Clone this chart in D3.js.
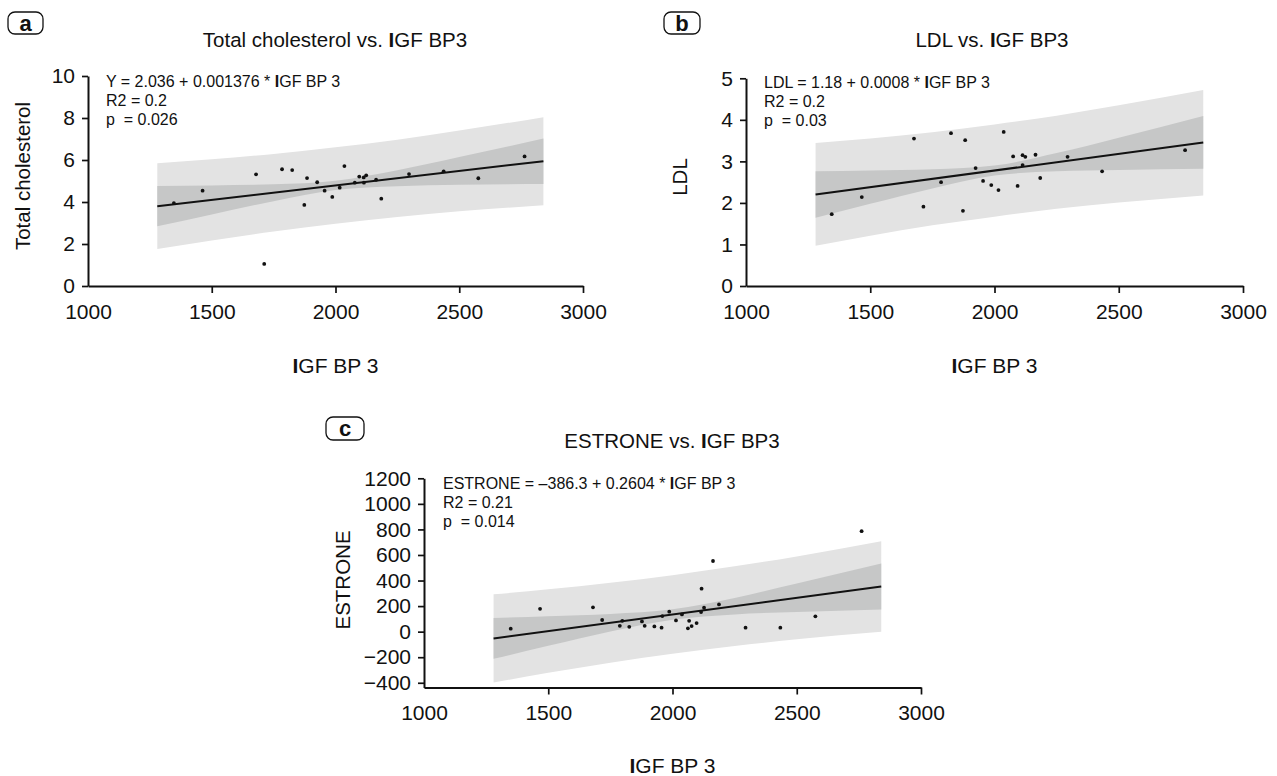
<!DOCTYPE html>
<html>
<head>
<meta charset="utf-8">
<script src="https://cdn.jsdelivr.net/npm/d3@7"></script>
<style>
  body { margin: 0; background: #fff; }
  svg { display: block; font-family: "Liberation Sans", Arial, Helvetica, sans-serif; }
  text { white-space: pre; fill: #111; }
</style>
</head>
<body>
<svg id="chart" width="1277" height="776"></svg>
<script>
// shared x values
const xTicks = [1000, 1500, 2000, 2500, 3000];
const bandX = [1280, 1500, 1750, 2000, 2250, 2500, 2840];

// a: total cholesterol
const cholX = [1347, 1463, 1679, 1712, 1784, 1825, 1874, 1885, 1926, 1956, 1987, 2017,
  2036, 2078, 2096, 2114, 2124, 2115, 2164, 2185, 2297, 2437, 2577, 2764];
const cholY = [3.95, 4.54, 5.32, 1.05, 5.56, 5.52, 3.86, 5.14, 4.94, 4.54, 4.24, 4.68,
  5.71, 4.92, 5.21, 5.17, 5.27, 4.92, 5.06, 4.16, 5.33, 5.46, 5.13, 6.17];
const cholCoef = [2.036, 0.001376];
const cholLightHi = [5.84, 6.03, 6.29, 6.61, 6.97, 7.40, 8.04];
const cholDarkHi = [4.76, 4.79, 4.84, 5.01, 5.51, 6.14, 7.02];
const cholDarkLo = [2.84, 3.41, 4.04, 4.57, 4.75, 4.82, 4.86];
const cholLightLo = [1.76, 2.17, 2.59, 2.97, 3.29, 3.56, 3.84];
const cholTicks = [0, 2, 4, 6, 8, 10];

// b: LDL
const ldlX = [1345, 1466, 1676, 1714, 1785, 1825, 1873, 1882, 1924, 1954, 1987, 2016,
  2037, 2075, 2093, 2113, 2124, 2113, 2165, 2184, 2294, 2433, 2767];
const ldlY = [1.73, 2.14, 3.55, 1.91, 2.50, 3.68, 1.81, 3.51, 2.84, 2.53, 2.43, 2.31,
  3.71, 3.12, 2.41, 3.15, 3.11, 2.91, 3.16, 2.60, 3.11, 2.76, 3.27];
const ldlCoef = [1.18, 0.0008];
const ldlLightHi = [3.44, 3.55, 3.70, 3.89, 4.10, 4.35, 4.72];
const ldlDarkHi = [2.76, 2.78, 2.81, 2.90, 3.20, 3.57, 4.09];
const ldlDarkLo = [1.64, 1.98, 2.35, 2.66, 2.76, 2.79, 2.82];
const ldlLightLo = [0.97, 1.21, 1.46, 1.67, 1.86, 2.01, 2.18];
const ldlTicks = [0, 1, 2, 3, 4, 5];

// c: estrone
const estX = [1349, 1467, 1680, 1717, 1788, 1798, 1826, 1877, 1888, 1927, 1956, 1959,
  1987, 2014, 2038, 2062, 2067, 2077, 2097, 2115, 2117, 2127, 2163, 2187, 2294, 2434,
  2575, 2761];
const estY = [23, 179, 190, 91, 46, 85, 38, 80, 46, 41, 31, 122, 156, 88, 135, 26, 85,
  44, 67, 153, 336, 187, 553, 213, 31, 31, 120, 786];
const estCoef = [-386.3, 0.2604];
const estLightHi = [292, 331, 382, 442, 511, 589, 707];
const estDarkHi = [107, 120, 138, 175, 264, 376, 533];
const estDarkLo = [-213, -111, 1, 94, 135, 154, 174];
const estLightLo = [-398, -322, -243, -173, -112, -60, -1];
const estTicks = [-400, -200, 0, 200, 400, 600, 800, 1000, 1200];

const svg = d3.select("#chart");

const panels = [
  {
    letter: "a", box: [8, 12, 35, 22],
    title: "Total cholesterol vs. IGF BP3", titlePos: [335, 47],
    left: 88, right: 583, yDomain: [0, 10], yRange: [286, 76], ticks: cholTicks,
    yLabel: "Total cholesterol", yLabelPos: [23, 176],
    xLabelY: 373,
    note: ["Y = 2.036 + 0.001376 * IGF BP 3", "R2 = 0.2", "p  = 0.026"], notePos: [106, 87],
    px: cholX, py: cholY, coef: cholCoef,
    lightHi: cholLightHi, darkHi: cholDarkHi, darkLo: cholDarkLo, lightLo: cholLightLo
  },
  {
    letter: "b", box: [664, 12, 36, 22],
    title: "LDL vs. IGF BP3", titlePos: [992, 47],
    left: 746, right: 1243, yDomain: [0, 5], yRange: [286, 78.3], ticks: ldlTicks,
    yLabel: "LDL", yLabelPos: [680, 177],
    xLabelY: 373,
    note: ["LDL = 1.18 + 0.0008 * IGF BP 3", "R2 = 0.2", "p  = 0.03"], notePos: [764, 88],
    px: ldlX, py: ldlY, coef: ldlCoef,
    lightHi: ldlLightHi, darkHi: ldlDarkHi, darkLo: ldlDarkLo, lightLo: ldlLightLo
  },
  {
    letter: "c", box: [326, 417, 38, 23],
    title: "ESTRONE vs. IGF BP3", titlePos: [672, 448],
    left: 424, right: 921, yDomain: [-437, 1200], yRange: [687.5, 478.3], ticks: estTicks,
    yLabel: "ESTRONE", yLabelPos: [343, 580],
    xLabelY: 773,
    note: ["ESTRONE = \u2013386.3 + 0.2604 * IGF BP 3", "R2 = 0.21", "p  = 0.014"], notePos: [443, 489],
    px: estX, py: estY, coef: estCoef,
    lightHi: estLightHi, darkHi: estDarkHi, darkLo: estDarkLo, lightLo: estLightLo
  }
];

// the capital I of "IGF" is set heavier in the original
function richText(sel, str) {
  const parts = str.split("IGF");
  parts.forEach((part, i) => {
    if (part) sel.append("tspan").text(part);
    if (i < parts.length - 1) {
      sel.append("tspan").attr("font-weight", "bold").text("I");
      sel.append("tspan").text("GF");
    }
  });
}

function drawPanel(p) {
  const g = svg.append("g").attr("class", "panel-" + p.letter);
  const x = d3.scaleLinear().domain([1000, 3000]).range([p.left, p.right]);
  const y = d3.scaleLinear().domain(p.yDomain).range(p.yRange);
  const bottom = p.yRange[0];

  // prediction band, then confidence band
  const band = (lo, hi) => d3.area()
    .x((d, i) => x(bandX[i]))
    .y0((d, i) => y(lo[i]))
    .y1((d, i) => y(hi[i]))
    .curve(d3.curveMonotoneX)(bandX);

  g.append("path").attr("d", band(p.lightLo, p.lightHi)).attr("fill", "#e3e3e3");
  g.append("path").attr("d", band(p.darkLo, p.darkHi)).attr("fill", "#c6c7c7");

  // fitted line
  const ends = [bandX[0], bandX[bandX.length - 1]];
  g.append("path")
    .attr("d", d3.line()
      .x(d => x(d))
      .y(d => y(p.coef[0] + p.coef[1] * d))(ends))
    .attr("fill", "none")
    .attr("stroke", "#111")
    .attr("stroke-width", 2);

  g.selectAll("circle.pt")
    .data(p.px.map((v, i) => [v, p.py[i]]))
    .join("circle")
    .attr("class", "pt")
    .attr("cx", d => x(d[0]))
    .attr("cy", d => y(d[1]))
    .attr("r", 1.9)
    .attr("fill", "#111");

  // axes
  const xAxis = g.append("g")
    .attr("transform", `translate(0,${bottom})`)
    .call(d3.axisBottom(x).tickValues(xTicks).tickSize(7).tickSizeOuter(0).tickPadding(11)
      .tickFormat(d3.format("d")));
  xAxis.selectAll(".tick").filter(d => d === 1000).select("line").remove();

  const yAxis = g.append("g")
    .attr("transform", `translate(${p.left},0)`)
    .call(d3.axisLeft(y).tickValues(p.ticks).tickSize(6).tickSizeOuter(0).tickPadding(7)
      .tickFormat(d3.format("d")));

  [xAxis, yAxis].forEach(ax => {
    ax.attr("font-family", null).attr("font-size", 21);
    ax.select(".domain").attr("stroke", "#111").attr("stroke-width", 2);
    ax.selectAll(".tick line").attr("stroke", "#111").attr("stroke-width", 1.7);
    ax.selectAll(".tick text").attr("fill", "#111");
  });

  // labels
  g.append("text")
    .attr("x", p.titlePos[0]).attr("y", p.titlePos[1])
    .attr("text-anchor", "middle").attr("font-size", 20.5)
    .call(richText, p.title);

  g.append("text")
    .attr("transform", `translate(${p.yLabelPos[0]},${p.yLabelPos[1]}) rotate(-90)`)
    .attr("text-anchor", "middle").attr("dy", "0.35em").attr("font-size", 20.5)
    .text(p.yLabel);

  g.append("text")
    .attr("x", (p.left + p.right) / 2).attr("y", p.xLabelY)
    .attr("text-anchor", "middle").attr("font-size", 21)
    .call(richText, "IGF BP 3");

  p.note.forEach((line, i) => {
    g.append("text")
      .attr("x", p.notePos[0]).attr("y", p.notePos[1] + i * 19)
      .attr("font-size", 16)
      .call(richText, line);
  });

  // panel letter
  g.append("rect")
    .attr("x", p.box[0]).attr("y", p.box[1])
    .attr("width", p.box[2]).attr("height", p.box[3])
    .attr("rx", 7).attr("fill", "none")
    .attr("stroke", "#111").attr("stroke-width", 1.3);
  g.append("text")
    .attr("x", p.box[0] + p.box[2] / 2).attr("y", p.box[1] + p.box[3] / 2)
    .attr("dy", "0.36em").attr("text-anchor", "middle")
    .attr("font-size", 22).attr("font-weight", "bold")
    .text(p.letter);
}

panels.forEach(drawPanel);
</script>
</body>
</html>
